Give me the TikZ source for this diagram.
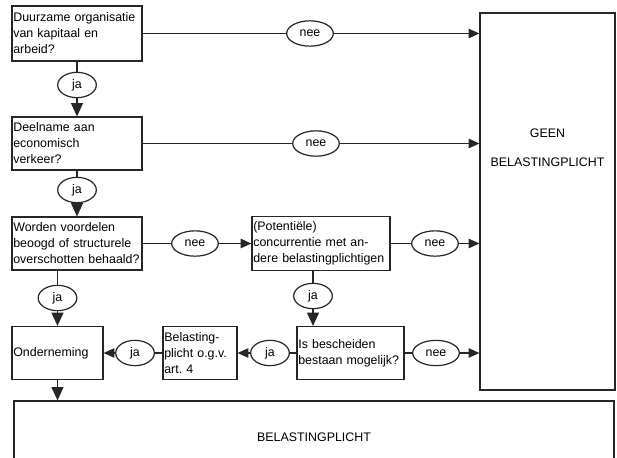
\documentclass[tikz,border=0pt]{standalone}
\usepackage{fontspec}
\setmainfont{Liberation Sans}
\usetikzlibrary{shapes.geometric,arrows.meta,calc}
\frenchspacing
\begin{document}
\begin{tikzpicture}[x=0.75pt,y=-0.75pt,
 every node/.style={font=\fontsize{9.3}{12}\selectfont},
 box/.style={draw=black!85,line width=0.9pt,rectangle,align=left,inner xsep=1pt,inner ysep=0pt,anchor=center},
 oval/.style={draw=black!85,line width=0.9pt,ellipse,inner sep=0pt,minimum height=19pt,fill=white},
 ja/.style={oval,minimum width=29pt},
 nee/.style={oval,minimum width=35pt},
 conn/.style={draw=black!85,line width=0.9pt},
 arr/.style={conn,-{Triangle[length=8pt,width=7pt]}},
 varr/.style={conn,-{Triangle[length=10pt,width=9pt]}}]
\useasboundingbox (0,0) rectangle (617,457);
% question boxes
\node[box,text width=95.5pt,minimum height=41.25pt] (q1) at (77,33.5) {Duurzame organisatie\\van kapitaal en\\arbeid?};
\node[box,text width=95.5pt,minimum height=39.75pt] (q2) at (77,143.5) {Deelname aan\\economisch\\verkeer?};
\node[box,text width=95.5pt,minimum height=39.75pt] (q3) at (77,243.5) {Worden voordelen\\beoogd of structurele\\overschotten behaald?};
\node[box,text width=101.5pt,minimum height=40.5pt] (q4) at (321,243.5) {(Potentiële)\\concurrentie met an-\\dere belastingplichtigen};
\node[box,text width=78.25pt,minimum height=39.75pt] (q5) at (350.5,353) {Is bescheiden\\bestaan mogelijk?};
\node[box,text width=53.5pt,minimum height=39.75pt] (art) at (200,353) {Belasting-\\plicht o.g.v.\\art. 4};
\node[box,text width=66.25pt,minimum height=39.75pt] (ond) at (57.5,353) {Onderneming};
\node[box,minimum width=101.25pt,minimum height=282.75pt] (geen) at (547.5,201.5) {};
\node[align=center] (geentxt) at (547.5,147.5) {GEEN\\[10pt]BELASTINGPLICHT};
\node[box,minimum width=450pt,minimum height=54pt,align=center] (bp) at (314,437) {BELASTINGPLICHT};
% labels
\node[ja] (j1) at (77,85) {ja};
\node[ja] (j2) at (77,190) {ja};
\node[ja] (j3) at (57.5,298) {ja};
\node[ja] (j4) at (313,296) {ja};
\node[ja] (j5) at (270,353) {ja};
\node[ja] (j6) at (135,353) {ja};
\node[nee] (n1) at (310,33.5) {nee};
\node[nee] (n2) at (316,143.5) {nee};
\node[nee] (n3) at (195,243.5) {nee};
\node[nee] (n4) at (435,243.5) {nee};
\node[nee] (n5) at (436,353) {nee};
% horizontal connectors
\draw[conn] (q1.east) -- (n1);
\draw[arr] (n1) -- (n1 -| geen.west);
\draw[conn] (q2.east) -- (n2);
\draw[arr] (n2) -- (n2 -| geen.west);
\draw[conn] (q3.east) -- (n3);
\draw[arr] (n3) -- (q4.west);
\draw[conn] (q4.east) -- (n4);
\draw[arr] (n4) -- (n4 -| geen.west);
\draw[conn] (q5.east) -- (n5);
\draw[arr] (n5) -- (n5 -| geen.west);
\draw[conn] (q5.west) -- (j5);
\draw[arr] (j5) -- (art.east);
\draw[conn] (art.west) -- (j6);
\draw[arr] (j6) -- (ond.east);
% vertical connectors
\draw[conn] (q1.south) -- (j1);
\draw[varr] (j1) -- (q2.north);
\draw[conn] (q2.south) -- (j2);
\draw[varr] (j2) -- (q3.north);
\draw[conn] (q3.south -| j3) -- (j3);
\draw[varr] (j3) -- (ond.north);
\draw[conn] (q4.south -| j4) -- (j4);
\draw[varr] (j4) -- (j4 |- q5.north);
\draw[varr] (ond.south) -- (ond.south |- bp.north);
\end{tikzpicture}
\end{document}
